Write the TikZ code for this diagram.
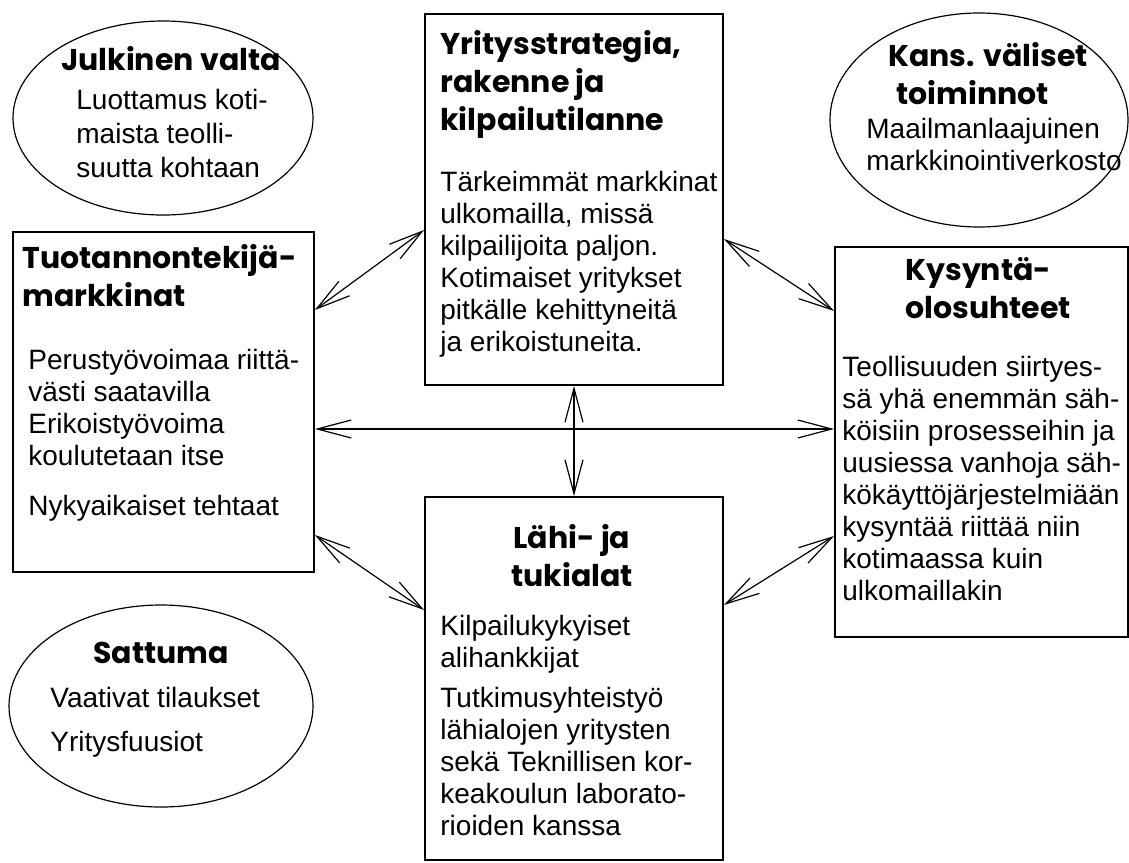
\documentclass[tikz,border=0pt]{standalone}
\usepackage{fontspec}
\setmainfont{Liberation Sans}
\newfontfamily\headfont{Poppins}
\usetikzlibrary{arrows.meta,shapes.geometric}

\begin{document}
\begin{tikzpicture}[
    x=0.5pt, y=-0.5pt,
    box/.style={draw, line width=0.9pt, inner sep=0pt},
    oval/.style={ellipse, draw, line width=0.6pt, inner sep=0pt},
    head/.style={font=\headfont\bfseries\fontsize{15}{19}\selectfont, inner sep=0pt},
    body/.style={font=\fontsize{14}{16}\selectfont, align=left, inner sep=0pt, anchor=north west},
    arrow/.style={{Straight Barb[length=17pt,width=9pt]}-{Straight Barb[length=17pt,width=9pt]}, line width=0.6pt}
]
\useasboundingbox (0,0) rectangle (1129,862);

\node[oval, minimum width=150pt, minimum height=97pt] (julk) at (163,118) {};
\node[oval, minimum width=149pt, minimum height=107pt] (kans) at (979,120) {};
\node[oval, minimum width=152pt, minimum height=101pt] (satt) at (161,706) {};

\node[box, minimum width=149pt, minimum height=185.5pt] (yrit) at (574,199.5) {};
\node[box, minimum width=150.5pt, minimum height=170pt] (tuot) at (163.5,402) {};
\node[box, minimum width=146.5pt, minimum height=195pt] (kys) at (981.5,442) {};
\node[box, minimum width=149pt, minimum height=181.5pt] (lahi) at (574,678.5) {};

\node[head, anchor=north] (julkhead) at (171,43.4) {\strut Julkinen valta};
\node[body, font=\fontsize{14}{17}\selectfont] (julkbody) at (76,85.2) {\strut Luottamus koti-\\maista teolli-\\suutta kohtaan};

\node[head, align=left, anchor=north west] (krithead) at (440,27.4) {\strut Yritysstrategia,\\rakenne ja\\kilpailutilanne};
\node[body] (yritbody) at (440,168.6) {\strut Tärkeimmät markkinat\\ulkomailla, missä\\kilpailijoita paljon.\\Kotimaiset yritykset\\pitkälle kehittyneitä\\ja erikoistuneita.};

\node[head, align=left, anchor=north west] (kanshead) at (888,39.4) {\strut Kans. väliset\\\hspace*{4pt}toiminnot};
\node[body] (kansbody) at (866,115.6) {\strut Maailmanlaajuinen\\markkinointiverkosto};

\node[head, align=left, anchor=north west] (tuothead) at (22,241.4) {\strut Tuotannontekijä-\\markkinat};
\node[body] (tuotbody) at (28,346.6) {\strut Perustyövoimaa riittä-\\västi saatavilla\\Erikoistyövoima\\koulutetaan itse\\[9pt]Nykyaikaiset tehtaat};

\node[head, align=left, anchor=north west] (kyshead) at (905,253.4) {\strut Kysyntä-\\olosuhteet};
\node[body] (kysbody) at (842,353.6) {\strut Teollisuuden siirtyes-\\sä yhä enemmän säh-\\köisiin prosesseihin ja\\uusiessa vanhoja säh-\\kökäyttöjärjestelmiään\\kysyntää riittää niin\\kotimaassa kuin\\ulkomaillakin};

\node[head, align=center, anchor=north] (lahihead) at (572,521.4) {\strut Lähi- ja\\tukialat};
\node[body] (lahibody) at (440,612.6) {\strut Kilpailukykyiset\\alihankkijat\\[4pt]Tutkimusyhteistyö\\lähialojen yritysten\\sekä Teknillisen kor-\\keakoulun laborato-\\rioiden kanssa};

\node[head, anchor=north] (satthead) at (161,636.4) {\strut Sattuma};
\node[body] (sattbody) at (50,684.6) {\strut Vaativat tilaukset\\[6pt]Yritysfuusiot};

\draw[arrow] ([yshift=46pt]tuot.east) -- ([yshift=-15.25pt]yrit.west);
\draw[arrow] ([yshift=-19.75pt]yrit.east) -- ([yshift=65.5pt]kys.west);
\draw[arrow] ([yshift=-13.5pt]tuot.east) -- ([yshift=6.5pt]kys.west);
\draw[arrow] (yrit.south) -- (lahi.north);
\draw[arrow] ([yshift=-66.5pt]tuot.east) -- ([yshift=34.25pt]lahi.west);
\draw[arrow] ([yshift=36.75pt]lahi.east) -- ([yshift=-47pt]kys.west);
\end{tikzpicture}
\end{document}
